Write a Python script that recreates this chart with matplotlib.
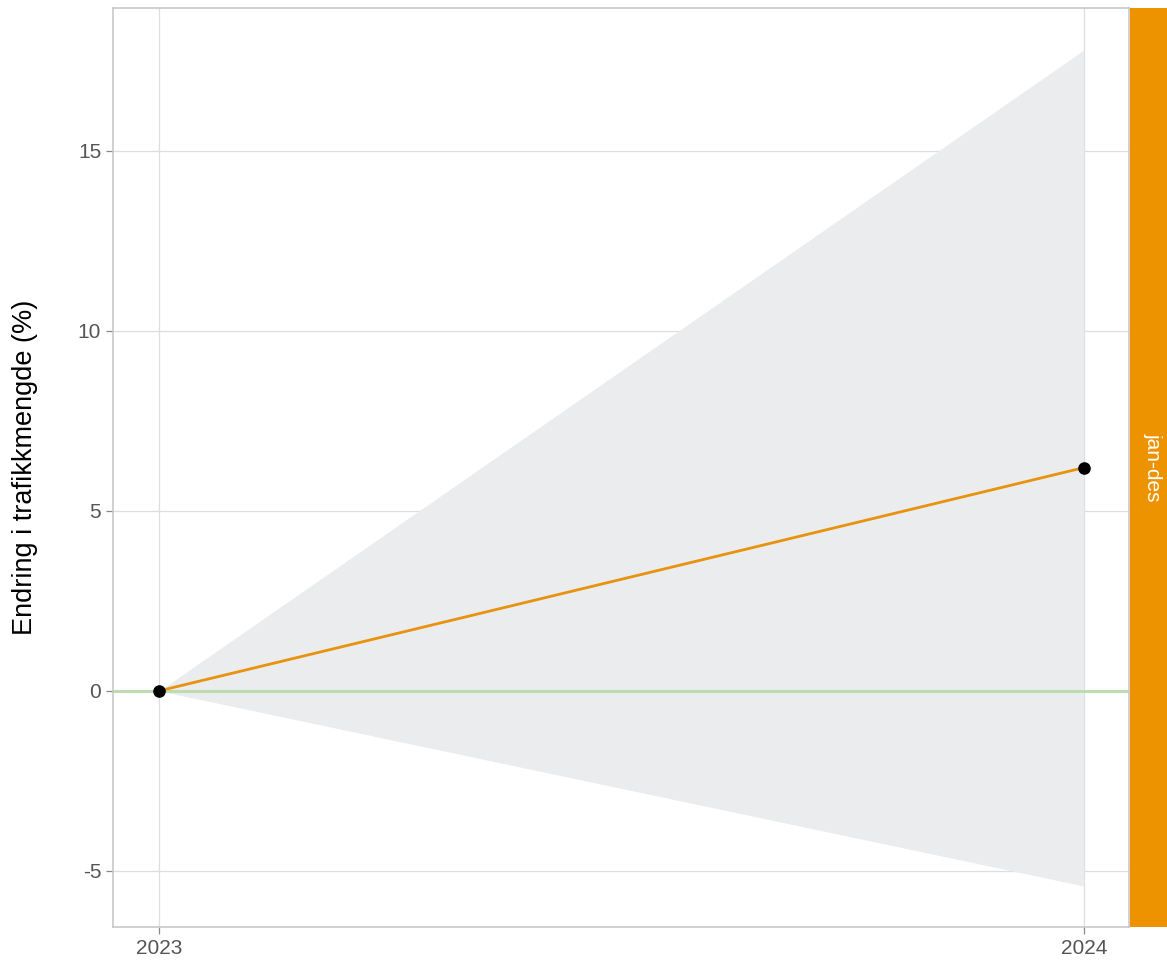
import matplotlib
matplotlib.use("Agg")
import matplotlib.pyplot as plt

plt.rcParams["font.family"] = ["Liberation Sans", "DejaVu Sans"]

# Data
years = [2023, 2024]
change_pct = [0.0, 6.2]
ci_low = [0.0, -5.42]
ci_high = [0.0, 17.8]
y_ticks = [-5, 0, 5, 10, 15]
period = "jan-des"

C_LINE = "#E8920E"
C_STRIP = "#ED9300"
C_RIBBON = "#EBECEE"
C_GRID = "#DEDEDE"
C_BORDER = "#C8C8C8"

fig = plt.figure(figsize=(11.67, 9.63), dpi=100)
ax = fig.add_axes([113 / 1167, 36 / 963, (1129 - 113) / 1167, (927 - 8) / 963])

ax.fill_between(years, ci_low, ci_high, color=C_RIBBON, lw=0, zorder=1)
ax.axhline(0, color="#BEDCB2", lw=2.2, zorder=2)
ax.plot(years, change_pct, color=C_LINE, lw=2, zorder=3)
ax.scatter(years, change_pct, s=65, color="black", zorder=4)

ax.set_xlim(2022.95, 2024.049)
ax.set_ylim(-6.56, 18.97)
ax.set_xticks(years)
ax.set_xticklabels([str(y) for y in years])
ax.set_yticks(y_ticks)
ax.set_yticklabels([str(t) for t in y_ticks])
ax.grid(True, color=C_GRID, lw=0.9)
ax.set_axisbelow(True)
ax.tick_params(colors="#888888", labelcolor="#555555", labelsize=15, length=5, width=0.9)
for s in ax.spines.values():
    s.set_color(C_BORDER)
    s.set_linewidth(1.2)
ax.set_ylabel("Endring i trafikkmengde (%)", fontsize=19.5, color="black", labelpad=29)

# facet strip on the right
sax = fig.add_axes([1130 / 1167, 36 / 963, 37 / 1167, (927 - 8) / 963])
sax.set_facecolor(C_STRIP)
sax.set_xticks([])
sax.set_yticks([])
for s in sax.spines.values():
    s.set_visible(False)
sax.text(0.62, 0.5, period, rotation=-90, ha="center", va="center",
         color="white", fontsize=15, transform=sax.transAxes)

fig.savefig("out.png", dpi=100)
